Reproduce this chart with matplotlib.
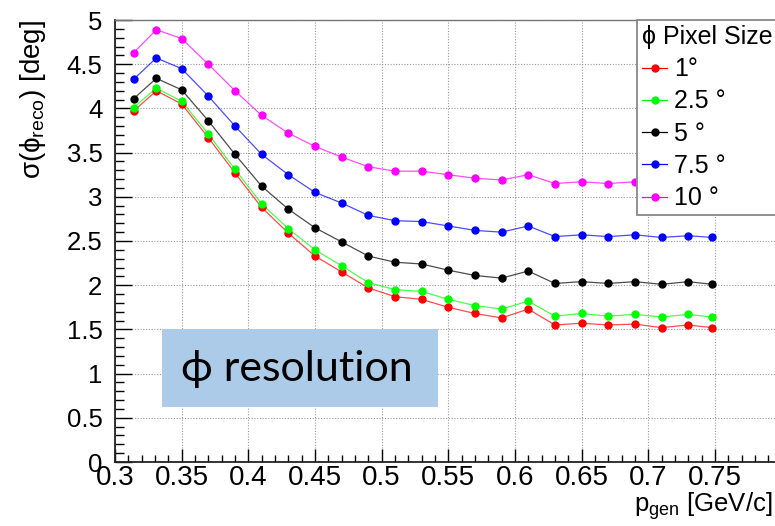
import matplotlib
matplotlib.use('Agg')
import matplotlib.pyplot as plt
from matplotlib.ticker import MultipleLocator
from matplotlib.patches import Rectangle

plt.rcParams['font.family'] = ['Liberation Sans', 'DejaVu Sans']
plt.rcParams['mathtext.fontset'] = 'custom'
plt.rcParams['mathtext.rm'] = 'Liberation Sans'
plt.rcParams['mathtext.it'] = 'Liberation Sans'
plt.rcParams['mathtext.sf'] = 'Liberation Sans'

# p_gen bins [GeV/c]
p_gen = [0.314, 0.331, 0.35, 0.37, 0.39, 0.41, 0.43, 0.45, 0.47, 0.49, 0.51, 0.53,
         0.55, 0.57, 0.59, 0.61, 0.63, 0.65, 0.67, 0.69, 0.71, 0.73, 0.748]

# sigma(phi_reco) [deg] per pixel size
res_1deg = [3.97, 4.20, 4.05, 3.67, 3.27, 2.88, 2.59, 2.33, 2.15, 1.97, 1.87, 1.84,
            1.75, 1.68, 1.63, 1.73, 1.55, 1.57, 1.55, 1.56, 1.52, 1.55, 1.52]
res_2p5deg = [4.01, 4.23, 4.08, 3.71, 3.31, 2.92, 2.64, 2.40, 2.22, 2.03, 1.95, 1.93,
              1.84, 1.77, 1.73, 1.82, 1.65, 1.68, 1.65, 1.67, 1.64, 1.67, 1.64]
res_5deg = [4.11, 4.34, 4.21, 3.86, 3.48, 3.12, 2.86, 2.65, 2.49, 2.33, 2.26, 2.24,
            2.17, 2.11, 2.08, 2.16, 2.02, 2.04, 2.02, 2.04, 2.01, 2.04, 2.01]
res_7p5deg = [4.33, 4.57, 4.45, 4.14, 3.80, 3.48, 3.25, 3.05, 2.93, 2.79, 2.73, 2.72,
              2.67, 2.62, 2.60, 2.67, 2.55, 2.57, 2.55, 2.57, 2.54, 2.56, 2.54]
res_10deg = [4.63, 4.89, 4.79, 4.50, 4.20, 3.92, 3.72, 3.57, 3.45, 3.34, 3.29, 3.29,
             3.25, 3.21, 3.19, 3.25, 3.15, 3.17, 3.15, 3.17, 3.15, 3.17, 3.15]

series = [
    (res_1deg, '#ff0000', '1°'),
    (res_2p5deg, '#00ff00', '2.5 °'),
    (res_5deg, '#000000', '5 °'),
    (res_7p5deg, '#0000ff', '7.5 °'),
    (res_10deg, '#ff00ff', '10 °'),
]

W, H = 775, 526
fig = plt.figure(figsize=(W / 100, H / 100), dpi=100)
fig.patch.set_facecolor('white')

# axes run slightly past the right edge of the canvas
x0, y0, x1, y1 = 115, 462, 781.5, 20
ax = fig.add_axes([x0 / W, 1 - y0 / H, (x1 - x0) / W, (y0 - y1) / H])

handles = []
for vals, col, lab in series:
    ax.plot(p_gen, vals, '-', color=col, lw=0.9, alpha=0.7, zorder=3)
    ax.plot(p_gen, vals, 'o', color=col, ms=5, mec=col, zorder=4)
    hl, = ax.plot([], [], '-o', color=col, lw=0.9, ms=5, label=lab)
    handles.append(hl)

ax.set_xlim(0.3, 0.8)
ax.set_ylim(0, 5)
ax.xaxis.set_minor_locator(MultipleLocator(0.01))
ax.yaxis.set_minor_locator(MultipleLocator(0.1))
ax.set_xticks([0.3, 0.35, 0.4, 0.45, 0.5, 0.55, 0.6, 0.65, 0.7, 0.75])
ax.set_xticklabels(['0.3', '0.35', '0.4', '0.45', '0.5', '0.55', '0.6', '0.65', '0.7', '0.75'])
ax.set_yticks([0, 0.5, 1, 1.5, 2, 2.5, 3, 3.5, 4, 4.5, 5])
ax.set_yticklabels(['0', '0.5', '1', '1.5', '2', '2.5', '3', '3.5', '4', '4.5', '5'])

ax.tick_params(axis='x', which='major', direction='in', length=9.5, width=1,
               labelsize=20, pad=2, top=False)
ax.tick_params(axis='x', which='minor', direction='in', length=5, width=1, top=False)
ax.tick_params(axis='y', which='major', direction='in', length=12, width=1,
               labelsize=18.5, pad=9, right=False)
ax.tick_params(axis='y', which='minor', direction='in', length=6.5, width=1, right=False)

ax.grid(True, which='major', color='#9a9a9a', linestyle=(0, (1, 1.5)), lw=0.8)
ax.set_axisbelow(True)
for s in ['left', 'bottom']:
    ax.spines[s].set_linewidth(1.3)
    ax.spines[s].set_color('#222222')
ax.spines['top'].set_color('#777777')
ax.spines['top'].set_linewidth(1)
ax.spines['right'].set_visible(False)

fig.text(773 / W, 1 - 512 / H, r'p$_{\mathrm{gen}}$ [GeV/c]', ha='right', va='baseline',
         fontsize=18.5)
fig.text(33 / W, 1 - 20 / H, r'$\sigma(\phi_{\mathrm{reco}})$ [deg]', rotation=90,
         ha='center', va='top', fontsize=20)

# label box
ax.add_patch(Rectangle((162 / W, 1 - 407 / H), (438 - 162) / W, (407 - 329) / H,
                       transform=fig.transFigure, facecolor='#abcbe8', edgecolor='none',
                       zorder=5))
fig.text(297 / W, 1 - 369 / H, 'ϕ resolution', ha='center', va='center',
         fontsize=31, family=['Lato', 'DejaVu Sans'], zorder=6)

leg = ax.legend(handles=handles, title='ϕ Pixel Size', loc='upper left',
                bbox_to_anchor=(637 / W, 1 - 218 / H, 150 / W, 198 / H),
                bbox_transform=fig.transFigure, mode='expand',
                fontsize=18, title_fontsize=18, frameon=True, fancybox=False,
                edgecolor='#888888', framealpha=1, borderpad=0.2, borderaxespad=0,
                handlelength=1.0, handletextpad=0.3, labelspacing=0.33,
                alignment='left')
leg.get_frame().set_linewidth(1.3)
leg.set_zorder(10)

fig.savefig('out.png', dpi=100)
